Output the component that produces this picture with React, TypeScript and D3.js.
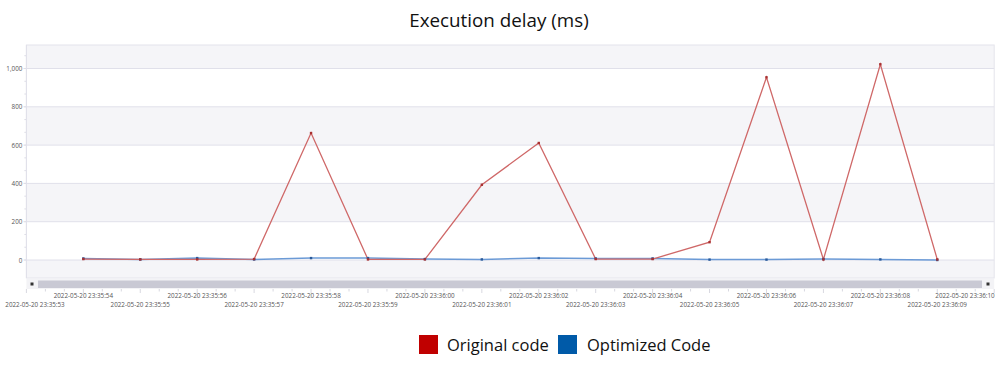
import React from "react";
import * as d3 from "d3";

const seconds = [54, 55, 56, 57, 58, 59, 60, 61, 62, 63, 64, 65, 66, 67, 68, 69];
const originalCode = [5, 3, 3, 5, 663, 3, 3, 393, 611, 5, 5, 93, 954, 3, 1022, 3];
const optimizedCode = [8, 3, 10, 3, 10, 10, 5, 3, 10, 8, 8, 2, 2, 5, 3, 0];
const yTicks = [0, 200, 400, 600, 800, 1000];
const tickSeconds = d3.range(53, 71);
const seriesNames = ["Original code", "Optimized Code"];

const W = 999, H = 366;
const left = 26.4, right = 994.2, top = 45, bottom = 278;

function label(s: number) {
  const m = s >= 60 ? 36 : 35;
  const ss = s >= 60 ? s - 60 : s;
  return `2022-05-20 23:${m}:${String(ss).padStart(2, "0")}`;
}

export default function App() {
  const x = d3.scaleLinear().domain([53, 70]).range([left, right]);
  const y = d3.scaleLinear().domain([0, 1000]).range([260, 68.5]);
  const yMin = y.invert(bottom);
  const yMax = y.invert(top);
  const line = d3
    .line<number>()
    .x((_, i) => x(seconds[i]))
    .y((v) => y(v));
  const bands: [number, number][] = [
    [1000, yMax],
    [600, 800],
    [200, 400],
    [yMin, 0],
  ];
  const yMinor = d3.range(0, 1121, 200 / 3).filter((v) => y(v) >= top);
  const xMinor = d3.range(53, 70.01, 1 / 3);
  const font = "'Open Sans', 'Noto Sans', sans-serif";
  const tickFont = 6.3;
  return (
    <svg width={W} height={H} style={{ position: "absolute", left: 0, top: 0, background: "#fff" }}>
      <text x={499} y={27} textAnchor="middle" fontFamily={font} fontSize={18.8} fill="#111">
        Execution delay (ms)
      </text>
      {bands.map(([a, b], i) => (
        <rect key={i} x={left} y={y(b)} width={right - left} height={y(a) - y(b)} fill="#f5f5f8" />
      ))}
      {yTicks.map((t) => (
        <g key={t}>
          <line x1={left - 3} x2={right} y1={y(t)} y2={y(t)} stroke="#e0e0ea" strokeWidth={1} />
          <text x={left - 4} y={y(t) + 2.5} textAnchor="end" fontFamily={font} fontSize={tickFont} fill="#555">
            {d3.format(",")(t)}
          </text>
        </g>
      ))}
      {yMinor.map((v, i) => (
        <line key={i} x1={left - 2} x2={left} y1={y(v)} y2={y(v)} stroke="#dcdce6" />
      ))}
      <rect x={left} y={top} width={right - left} height={bottom - top} fill="none" stroke="#e4e4ec" />
      <line x1={left} x2={left} y1={top} y2={bottom} stroke="#e0e0ea" />
      <path d={line(optimizedCode) || ""} fill="none" stroke="#6b9ad6" strokeWidth={1.5} />
      <path d={line(originalCode) || ""} fill="none" stroke="#cf6868" strokeWidth={1.3} />
      {optimizedCode.map((v, i) => (
        <rect key={"b" + i} x={x(seconds[i]) - 1.2} y={y(v) - 1.2} width={2.4} height={2.4} fill="#2a5a9a" />
      ))}
      {originalCode.map((v, i) => (
        <rect key={"r" + i} x={x(seconds[i]) - 1.2} y={y(v) - 1.2} width={2.4} height={2.4} fill="#a83030" />
      ))}
      {/* scrollbar */}
      <rect x={left} y={279} width={right - left} height={10} fill="#f3f3f6" />
      <rect x={38} y={280.5} width={944} height={7.5} fill="#c9c9d4" />
      <rect x={30.5} y={282.5} width={3} height={3} fill="#333" />
      <rect x={986.5} y={282.5} width={3} height={3} fill="#333" />
      {xMinor.map((s, i) => (
        <line key={i} x1={x(s)} x2={x(s)} y1={289} y2={Math.abs(s - Math.round(s)) < 0.01 ? 293 : 291.5} stroke="#d8d8e0" />
      ))}
      {tickSeconds.map((s, i) => {
        const txt = label(s);
        const half = 27;
        let cx = x(s);
        cx = Math.max(8 + half, Math.min(992 - half, cx));
        return (
          <text key={s} x={cx} y={i % 2 === 1 ? 297.5 : 306.5} textAnchor="middle" fontFamily={font} fontSize={tickFont} fill="#555">
            {txt}
          </text>
        );
      })}
      {/* legend */}
      <rect x={419} y={335} width={19} height={19} fill="#c00000" />
      <text x={447} y={351} fontFamily={font} fontSize={16.5} fill="#111">
        {seriesNames[0]}
      </text>
      <rect x={558} y={335} width={19} height={19} fill="#005aa8" />
      <text x={587} y={351} fontFamily={font} fontSize={16.5} fill="#111">
        {seriesNames[1]}
      </text>
    </svg>
  );
}
